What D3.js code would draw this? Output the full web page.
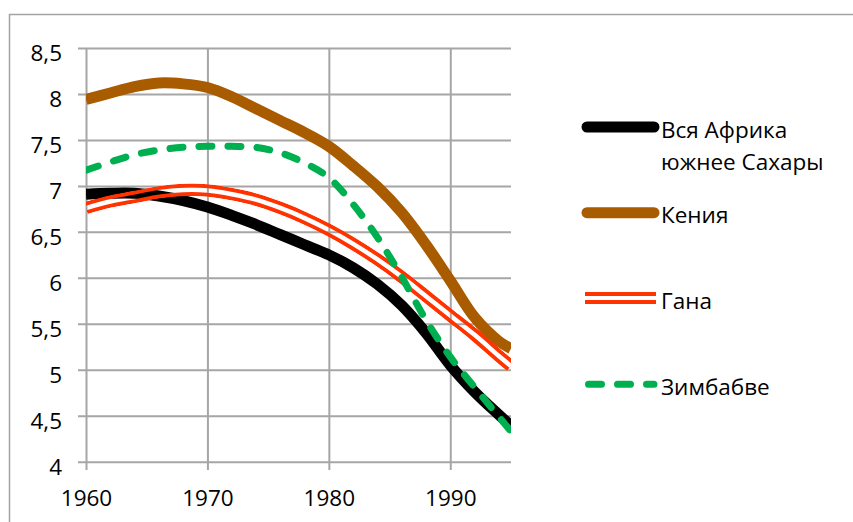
<!DOCTYPE html>
<html>
<head>
<meta charset="utf-8">
<script src="https://cdn.jsdelivr.net/npm/d3@7"></script>
<style>
  body { margin: 0; background: #fff; }
  text { font-family: "Open Sans", sans-serif; fill: #000; }
</style>
</head>
<body>
<script>
// fertility: births per woman
var years  = [1960, 1962, 1964, 1966, 1968, 1970, 1972, 1974, 1976, 1978, 1980, 1982, 1984, 1986, 1988, 1990, 1992, 1994, 1995];
var africa = [6.91, 6.92, 6.92, 6.89, 6.84, 6.77, 6.68, 6.58, 6.47, 6.36, 6.25, 6.11, 5.93, 5.70, 5.40, 5.05, 4.76, 4.51, 4.39];
var kenya  = [7.94, 8.01, 8.08, 8.12, 8.11, 8.07, 7.97, 7.84, 7.71, 7.58, 7.43, 7.22, 6.99, 6.71, 6.36, 5.97, 5.57, 5.31, 5.23];
var ghana  = [6.76, 6.83, 6.88, 6.93, 6.955, 6.95, 6.91, 6.85, 6.76, 6.65, 6.52, 6.37, 6.20, 6.01, 5.80, 5.59, 5.38, 5.15, 5.04];
var zimb   = [7.17, 7.26, 7.34, 7.39, 7.42, 7.43, 7.43, 7.42, 7.36, 7.25, 7.09, 6.80, 6.44, 6.01, 5.54, 5.14, 4.81, 4.49, 4.33];

var names = ["Вся Африка", "южнее Сахары", "Кения", "Гана", "Зимбабве"];
var yTicks = [4, 4.5, 5, 5.5, 6, 6.5, 7, 7.5, 8, 8.5];
var xTicks = [1960, 1970, 1980, 1990];

var svg = d3.select("body").append("svg")
    .attr("width", 853)
    .attr("height", 522);

var x = d3.scaleLinear().domain([1960, 1995]).range([86, 511]);
var y = d3.scaleLinear().domain([4, 8.5]).range([461.7, 48]);

var ru = d3.formatLocale({decimal: ",", thousands: " ", grouping: [3], currency: ["", ""]});
var fmt = ru.format(".1~f");

// chart frame
svg.append("path")
    .attr("d", "M9.5,530V14.5H853")
    .attr("fill", "none")
    .attr("stroke", "#a3a3a3")
    .attr("stroke-width", 1.5);

// y grid + labels
var gy = svg.append("g")
    .attr("transform", "translate(78,0)")
    .call(d3.axisLeft(y).tickValues(yTicks).tickSizeInner(-433).tickSizeOuter(0).tickPadding(16).tickFormat(fmt));
gy.select(".domain").remove();
gy.selectAll("line").attr("stroke", "#a6a6a6").attr("stroke-width", 2);
gy.selectAll("text")
    .attr("dy", null)
    .attr("y", 12.5)
    .style("font-size", "22.5px")
    .style("font-family", "Open Sans");

// x grid + labels
var gx = svg.append("g")
    .attr("transform", "translate(0,470)")
    .call(d3.axisBottom(x).tickValues(xTicks).tickSizeInner(-422).tickSizeOuter(0).tickFormat(d3.format("d")));
gx.select(".domain").remove();
gx.selectAll("line").attr("stroke", "#a6a6a6").attr("stroke-width", 2);
gx.selectAll("text")
    .attr("dy", null)
    .attr("y", 35.5)
    .style("font-size", "22.5px")
    .style("font-family", "Open Sans");

var defs = svg.append("defs");
defs.append("clipPath").attr("id", "plot")
  .append("rect").attr("x", 86).attr("y", 0).attr("width", 425).attr("height", 522);

var line = d3.line()
    .x(function(d) { return x(d[0]); })
    .y(function(d) { return y(d[1]); })
    .curve(d3.curveCatmullRom.alpha(0.5));

function pts(vals) { return years.map(function(yr, i) { return [yr, vals[i]]; }); }

var plot = svg.append("g").attr("clip-path", "url(#plot)");

plot.append("path")
    .attr("d", line(pts(africa)))
    .attr("fill", "none")
    .attr("stroke", "#000")
    .attr("stroke-width", 11);

plot.append("path")
    .attr("d", line(pts(kenya)))
    .attr("fill", "none")
    .attr("stroke", "#a95b00")
    .attr("stroke-width", 11);

// Ghana: double line with a see-through middle
var gd = line(pts(ghana));
var mask = defs.append("mask").attr("id", "ghanaMask")
    .attr("maskUnits", "userSpaceOnUse")
    .attr("x", 0).attr("y", 0).attr("width", 853).attr("height", 522);
mask.append("path").attr("d", gd).attr("fill", "none").attr("stroke", "#fff").attr("stroke-width", 12.5);
mask.append("path").attr("d", gd).attr("fill", "none").attr("stroke", "#000").attr("stroke-width", 4.5);
plot.append("path")
    .attr("d", gd)
    .attr("fill", "none")
    .attr("stroke", "#ff3300")
    .attr("stroke-width", 12.5)
    .attr("mask", "url(#ghanaMask)");

plot.append("path")
    .attr("d", line(pts(zimb)))
    .attr("fill", "none")
    .attr("stroke", "#00b050")
    .attr("stroke-width", 7)
    .attr("stroke-linecap", "round")
    .attr("stroke-dasharray", "13,16");

// legend
var lg = svg.append("g");
lg.append("line").attr("x1", 587).attr("x2", 654).attr("y1", 127).attr("y2", 127)
    .attr("stroke", "#000").attr("stroke-width", 11).attr("stroke-linecap", "round");
lg.append("line").attr("x1", 587).attr("x2", 654).attr("y1", 212.7).attr("y2", 212.7)
    .attr("stroke", "#a95b00").attr("stroke-width", 11).attr("stroke-linecap", "round");
lg.append("line").attr("x1", 585).attr("x2", 656).attr("y1", 294).attr("y2", 294)
    .attr("stroke", "#ff3300").attr("stroke-width", 4);
lg.append("line").attr("x1", 585).attr("x2", 656).attr("y1", 302).attr("y2", 302)
    .attr("stroke", "#ff3300").attr("stroke-width", 4);
lg.append("line").attr("x1", 588.5).attr("x2", 654).attr("y1", 384.3).attr("y2", 384.3)
    .attr("stroke", "#00b050").attr("stroke-width", 7).attr("stroke-linecap", "round")
    .attr("stroke-dasharray", "13,16");

var ly = [138, 170, 222.7, 309, 395];
lg.selectAll("text").data(names).enter().append("text")
    .attr("x", 661)
    .attr("y", function(d, i) { return ly[i]; })
    .style("font-size", "22.5px")
    .text(function(d) { return d; });
</script>
</body>
</html>
